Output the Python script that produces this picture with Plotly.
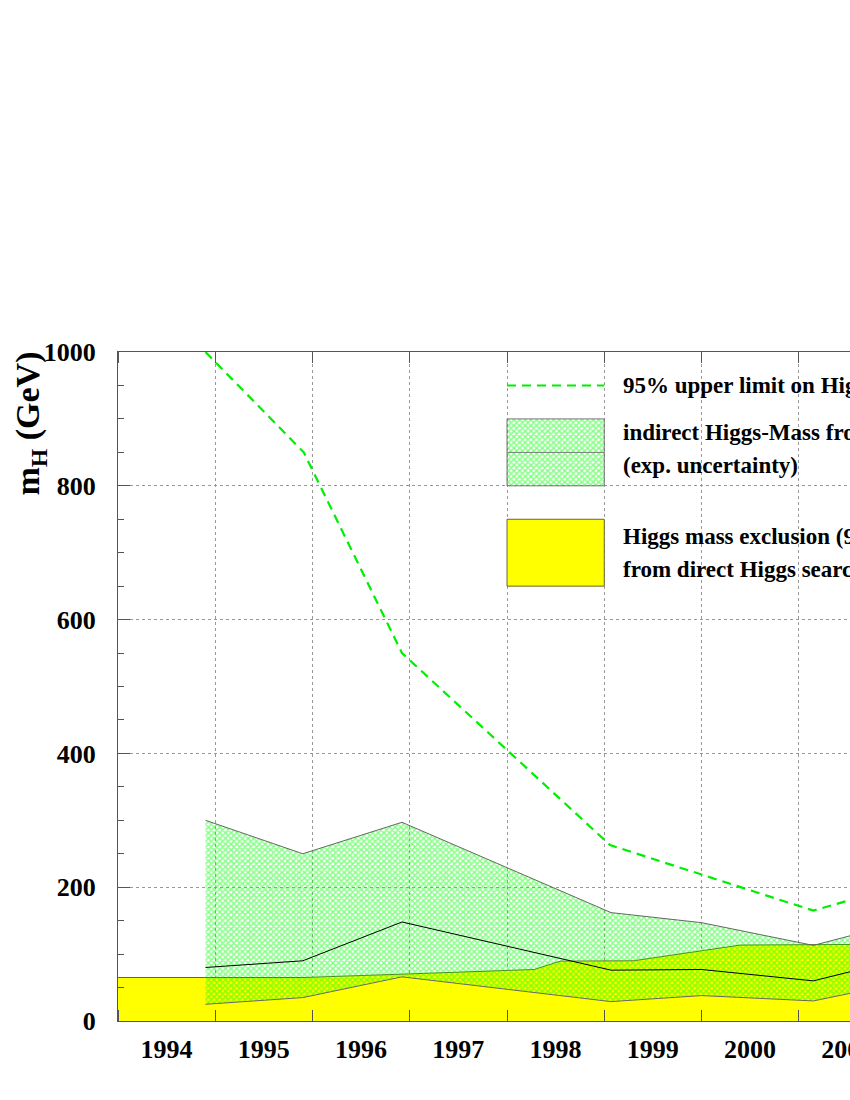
import plotly.graph_objects as go

# ---------------- data ----------------
band_years   = [1994.9, 1995.9, 1996.92, 1999.07, 2000.0, 2001.15, 2001.65]
band_upper   = [300, 250, 297, 162, 147, 113, 132]
band_central = [80, 90, 148, 76, 77, 60, 78]
band_lower   = [25, 35, 66, 29, 38, 30, 45]

limit_years  = [1994.9, 1995.91, 1996.92, 1999.06, 2001.15, 2001.65]
limit_values = [1000, 850, 550, 263, 165, 186]

excl_years   = [1994.0, 1994.9, 1995.9, 1996.92, 1998.28, 1998.55, 1999.3, 2000.0, 2000.4, 2001.65]
excl_values  = [65, 65, 65, 70, 77, 89.5, 90, 105, 113.5, 114.5]

year_labels  = ["1994", "1995", "1996", "1997", "1998", "1999", "2000", "2001"]
year_centers = [1994.5, 1995.5, 1996.5, 1997.5, 1998.5, 1999.5, 2000.5, 2001.5]

legend_texts = [
    "95% upper limit on Higgs-Mass",
    "indirect Higgs-Mass from fit",
    "(exp. uncertainty)",
    "Higgs mass exclusion (95% CL)",
    "from direct Higgs searches",
]

# ---------------- styling ----------------
SERIF = "Liberation Serif, Times New Roman, serif"
GREEN = "#00ee00"
HATCH = dict(shape="x", fgcolor="#00ff00", bgcolor="rgba(0,0,0,0)", size=4, solidity=0.6)

fig = go.Figure()

# yellow exclusion region
fig.add_trace(go.Scatter(
    x=excl_years, y=excl_values, mode="lines", fill="tozeroy",
    fillcolor="#ffff00", line=dict(color="#666633", width=1),
    showlegend=False, hoverinfo="skip"))

# hatched indirect band
fig.add_trace(go.Scatter(
    x=band_years, y=band_lower, mode="lines",
    line=dict(color="#666666", width=1), showlegend=False, hoverinfo="skip"))
fig.add_trace(go.Scatter(
    x=band_years, y=band_upper, mode="lines", fill="tonexty",
    fillcolor="rgba(0,0,0,0)", fillpattern=HATCH,
    line=dict(color="#666666", width=1), showlegend=False, hoverinfo="skip"))
fig.add_trace(go.Scatter(
    x=band_years, y=band_central, mode="lines",
    line=dict(color="#000000", width=1), showlegend=False, hoverinfo="skip"))

# dashed upper limit
fig.add_trace(go.Scatter(
    x=limit_years, y=limit_values, mode="lines",
    line=dict(color=GREEN, width=2.2, dash="9px,6px"),
    showlegend=False, hoverinfo="skip"))

# ---------------- legend (drawn in data coordinates like the original) ----------------
LX0, LX1, LTX = 1998.0, 1999.0, 1999.17
fig.add_shape(type="line", x0=LX0, x1=LX1, y0=950, y1=950,
              line=dict(color=GREEN, width=2, dash="9px,6px"))
fig.add_trace(go.Scatter(
    x=[LX0, LX1, LX1, LX0, LX0], y=[800, 800, 900, 900, 800], mode="lines",
    fill="toself", fillcolor="rgba(0,0,0,0)", fillpattern=HATCH,
    line=dict(color="#777777", width=1), showlegend=False, hoverinfo="skip"))
fig.add_shape(type="line", x0=LX0, x1=LX1, y0=850, y1=850,
              line=dict(color="#777777", width=1))
fig.add_shape(type="rect", x0=LX0, x1=LX1, y0=650, y1=750,
              fillcolor="#ffff00", line=dict(color="#666633", width=1))

for txt, yv in zip(legend_texts, [950, 879, 831, 724, 675]):
    fig.add_annotation(x=LTX, y=yv, xref="x", yref="y", text=txt, showarrow=False,
                       xanchor="left", yanchor="middle",
                       font=dict(family=SERIF, size=23, color="black", weight="bold"))

# y-axis title
fig.add_annotation(x=0, y=0.893, xref="paper", yref="paper", xshift=-88,
                   text="m<sub>H</sub> (GeV)", textangle=-90, showarrow=False,
                   xanchor="center", yanchor="middle",
                   font=dict(family=SERIF, size=34, color="black", weight="bold"))

tickfont = dict(family=SERIF, size=26, color="black", weight="bold")
fig.update_layout(
    width=850, height=1100,
    margin=dict(l=118, r=0, t=352, b=79, autoexpand=False),
    paper_bgcolor="white", plot_bgcolor="white",
    showlegend=False,
    xaxis=dict(
        range=[1994.0, 2001.527], tickmode="array",
        tickvals=year_centers, ticktext=year_labels,
        ticks="", showgrid=False, zeroline=False, automargin=False,
        showline=True, linecolor="#555555", linewidth=1, mirror="ticks",
        tickfont=tickfont, ticklabelstandoff=5, ticklabeloverflow="allow",
        minor=dict(tickmode="linear", tick0=1994, dtick=1, ticks="inside",
                   ticklen=11, tickcolor="#555555", tickwidth=1,
                   showgrid=True, gridcolor="#999999", griddash="dot", gridwidth=1),
    ),
    yaxis=dict(
        range=[0, 1000], tickmode="linear", tick0=0, dtick=200,
        ticks="inside", ticklen=12, tickcolor="#555555", tickwidth=1,
        showgrid=True, gridcolor="#999999", griddash="dot", gridwidth=1,
        zeroline=False, showline=True, linecolor="#555555", linewidth=1,
        automargin=False,
        tickfont=tickfont, ticklabelstandoff=16,
        minor=dict(tickmode="linear", tick0=0, dtick=50, ticks="inside",
                   ticklen=6, tickcolor="#555555", tickwidth=1, showgrid=False),
    ),
)

# remove the default page margin so the 850x1100 figure fills the window exactly
fig.write_html("out.html", config={"displayModeBar": False},
               post_script="document.body.style.margin='0';document.body.style.overflow='hidden';")
